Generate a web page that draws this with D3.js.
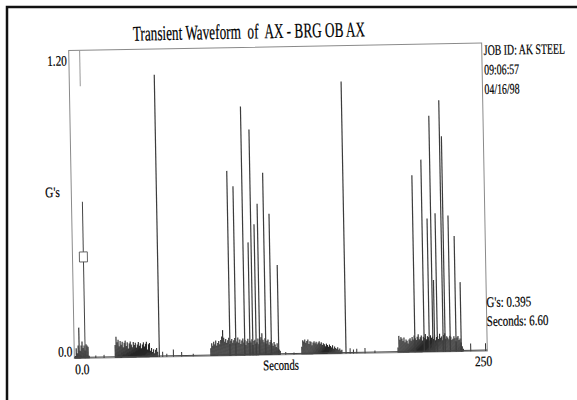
<!DOCTYPE html>
<html>
<head>
<meta charset="utf-8">
<script src="https://cdn.jsdelivr.net/npm/d3@7"></script>
<style>
  body { margin: 0; background: #fff; }
  text { font-family: "Liberation Serif", "DejaVu Serif", serif; fill: #000; stroke: #000; stroke-width: 0.2px; }
</style>
</head>
<body>
<div id="chart"></div>
<script>
// Data________________________________________________________________
const title = 'Transient Waveform  of  AX - BRG OB AX';
const infoLines = ['JOB ID: AK STEEL', '09:06:57', '04/16/98'];
const cursorLines = ["G's: 0.395", 'Seconds: 6.60'];
const xTicks = [0, 250];
const xTickLabels = ['0.0', '250'];
const yTicks = [0, 1.2];
const yTickLabels = ['0.0', '1.20'];

// cursor (seconds, G's)
const cursorTime = 6.6;
const cursorValue = 0.395;
const cursorSegments = [[0, 0.61], [1.06, 1.2]];

// large impacts: [seconds, G's]
const spikes = [
    [51.5, 1.10], [94.3, 0.72], [97.9, 0.66], [103.3, 0.97], [106.4, 0.44],
    [108.2, 0.88], [110.2, 0.51], [112.3, 0.59], [116.0, 0.71], [119.4, 0.55],
    [123.8, 0.35], [164.5, 1.06], [206.3, 0.69], [211.9, 0.75], [215.0, 0.52],
    [217.2, 0.92], [218.2, 0.28], [219.9, 0.54], [223.4, 0.98], [224.6, 0.84],
    [227.7, 0.53], [231.2, 0.45], [234.3, 0.27]
];

// small isolated blips: [seconds, G's]
const blips = [
    [13, 0.01], [18, 0.012], [53.5, 0.02], [56, 0.012], [60, 0.028], [65, 0.018],
    [72, 0.01], [128, 0.01], [133, 0.008], [167, 0.02], [169, 0.015], [171, 0.018],
    [176, 0.02], [182, 0.01], [240, 0.03], [249, 0.03]
];

// sampled bursts (start s, end s, amplitudes in G's)
const burst0 = { start: 0.6, end: 9.0, values: [0.01, 0.04, 0.02, 0.05, 0.12, 0.03, 0.05, 0.066, 0.04, 0.05, 0.03, 0.055, 0.05, 0.045, 0.01] };
const burst1 = { start: 24.8, end: 50.5, values: [0.05, 0.082, 0.06, 0.07, 0.045, 0.065, 0.05, 0.062, 0.04, 0.058, 0.066, 0.045, 0.06, 0.035, 0.055, 0.062, 0.05, 0.04, 0.06, 0.048, 0.057, 0.038, 0.05, 0.06, 0.045, 0.055, 0.035, 0.05, 0.058, 0.042, 0.052, 0.06, 0.03, 0.05, 0.055, 0.025, 0.035, 0.02, 0.03, 0.015, 0.028, 0.035, 0.02] };
const burst2 = { start: 82.7, end: 124.7, values: [0.03, 0.05, 0.04, 0.055, 0.045, 0.06, 0.04, 0.05, 0.058, 0.045, 0.062, 0.075, 0.1, 0.07, 0.055, 0.065, 0.05, 0.06, 0.07, 0.045, 0.058, 0.065, 0.05, 0.06, 0.068, 0.048, 0.055, 0.07, 0.05, 0.062, 0.045, 0.058, 0.066, 0.05, 0.06, 0.04, 0.055, 0.065, 0.048, 0.057, 0.05, 0.062, 0.04, 0.055, 0.06, 0.045, 0.05, 0.065, 0.042, 0.058, 0.07, 0.085, 0.06, 0.05, 0.065, 0.045, 0.055, 0.06, 0.04, 0.05, 0.058, 0.045, 0.035, 0.05, 0.04, 0.03, 0.045, 0.025, 0.02, 0.015] };
const burst3 = { start: 137.8, end: 162.0, values: [0.03, 0.055, 0.05, 0.058, 0.045, 0.052, 0.057, 0.04, 0.05, 0.048, 0.035, 0.045, 0.05, 0.042, 0.048, 0.038, 0.045, 0.05, 0.04, 0.046, 0.035, 0.042, 0.038, 0.03, 0.04, 0.035, 0.028, 0.036, 0.03, 0.025, 0.033, 0.02, 0.028, 0.022, 0.018, 0.025, 0.015, 0.02, 0.012, 0.015] };
const burst4 = { start: 196.0, end: 235.5, values: [0.02, 0.065, 0.05, 0.06, 0.055, 0.045, 0.058, 0.04, 0.05, 0.045, 0.035, 0.05, 0.055, 0.045, 0.06, 0.05, 0.065, 0.055, 0.048, 0.06, 0.07, 0.05, 0.058, 0.065, 0.045, 0.06, 0.055, 0.07, 0.05, 0.062, 0.058, 0.045, 0.065, 0.055, 0.06, 0.05, 0.068, 0.045, 0.058, 0.062, 0.05, 0.07, 0.055, 0.06, 0.045, 0.065, 0.072, 0.05, 0.06, 0.055, 0.048, 0.062, 0.058, 0.045, 0.05, 0.06, 0.052, 0.04, 0.055, 0.06, 0.045, 0.05, 0.035, 0.02, 0.01] };
const bursts = [burst0, burst1, burst2, burst3, burst4];

// Layout______________________________________________________________
const width = 577;
const height = 400;
const plot = { x: 71.5, y: 46.75, w: 413, h: 308 };
const tilt = -1.05; // the scan sits slightly crooked

// squeeze text horizontally (the original face is a narrow Times)
function squeeze(sel, k) {
    sel.each(function () {
        const w = this.getComputedTextLength();
        d3.select(this).attr('textLength', w * k).attr('lengthAdjust', 'spacingAndGlyphs');
    });
    return sel;
}

// narrow text drawn through a scale transform, so its box stays true
function narrowText(parent, x, y, str, k, size) {
    return parent.append('g')
        .attr('transform', `translate(${x},${y}) scale(${k},1)`)
        .append('text')
        .style('font-size', size)
        .text(str);
}

const svg = d3.select('#chart')
    .append('svg')
    .attr('width', width)
    .attr('height', height);

svg.append('rect').attr('width', width).attr('height', height).attr('fill', '#fff');

// outer page border
svg.append('rect')
    .attr('x', 7).attr('y', 7)
    .attr('width', 620).attr('height', 420)
    .attr('fill', 'none')
    .attr('stroke', '#111')
    .attr('stroke-width', 2.5);

const g = svg.append('g')
    .attr('transform', `rotate(${tilt},${plot.x + plot.w / 2},${plot.y + plot.h / 2})`);

const x = d3.scaleLinear().domain([0, 250]).range([plot.x, plot.x + plot.w]);
const y = d3.scaleLinear().domain([0, 1.2]).range([plot.y + plot.h, plot.y]);

// Title_______________________________________________________________
squeeze(g.append('text')
    .attr('x', 252).attr('y', 38)
    .attr('text-anchor', 'middle')
    .style('white-space', 'pre')
    .style('font-size', '21px')
    .text(title), 0.63);

// Plot frame__________________________________________________________
g.append('rect')
    .attr('x', plot.x).attr('y', plot.y)
    .attr('width', plot.w).attr('height', plot.h)
    .attr('fill', 'none')
    .attr('stroke', '#8a8a8a')
    .attr('stroke-width', 1);

// Bursts (dense noise)________________________________________________
const noise = g.append('g').attr('class', 'noise');
bursts.forEach(b => {
    const t = d3.scaleLinear().domain([0, b.values.length - 1]).range([b.start, b.end]);
    noise.selectAll(null)
        .data(b.values)
        .enter()
        .append('line')
        .attr('x1', (d, i) => x(t(i)))
        .attr('x2', (d, i) => x(t(i)))
        .attr('y1', y(0))
        .attr('y2', d => y(d))
        .attr('stroke', '#262626')
        .attr('stroke-width', 1.1);
});

g.append('g')
    .selectAll('line')
    .data(blips)
    .enter()
    .append('line')
    .attr('x1', d => x(d[0])).attr('x2', d => x(d[0]))
    .attr('y1', y(0)).attr('y2', d => y(d[1]))
    .attr('stroke', '#333')
    .attr('stroke-width', 1);

// Spikes______________________________________________________________
g.append('g')
    .selectAll('line')
    .data(spikes)
    .enter()
    .append('line')
    .attr('x1', d => x(d[0])).attr('x2', d => x(d[0]))
    .attr('y1', y(0)).attr('y2', d => y(d[1]))
    .attr('stroke', '#3c3c3c')
    .attr('stroke-width', 1.2);

// baseline
g.append('line')
    .attr('x1', x(0)).attr('x2', x(250))
    .attr('y1', y(0.004)).attr('y2', y(0.004))
    .attr('stroke', '#444')
    .attr('stroke-width', 1);

// Cursor______________________________________________________________
g.append('g')
    .selectAll('line')
    .data(cursorSegments)
    .enter()
    .append('line')
    .attr('x1', x(cursorTime)).attr('x2', x(cursorTime))
    .attr('y1', d => y(d[0])).attr('y2', d => y(d[1]))
    .attr('stroke', (d, i) => i === 0 ? '#444' : '#999')
    .attr('stroke-width', 1);

g.append('rect')
    .attr('x', x(cursorTime) - 4).attr('y', y(cursorValue) - 5)
    .attr('width', 8).attr('height', 10)
    .attr('fill', '#fff')
    .attr('stroke', '#555')
    .attr('stroke-width', 0.9);

// Axes labels_________________________________________________________
const yAxis = d3.axisLeft(y)
    .tickValues(yTicks)
    .tickSize(0)
    .tickPadding(2)
    .tickFormat((d, i) => yTickLabels[i]);
const yAxisG = g.append('g')
    .attr('transform', `translate(${plot.x},0)`)
    .call(yAxis);
yAxisG.select('.domain').remove();
yAxisG.selectAll('text')
    .attr('dy', d => d === 0 ? '-0.18em' : '1.0em')
    .style('font-size', '14.5px')
    .style('font-family', '"Liberation Serif", serif')
    .attr('fill', '#000');
squeeze(yAxisG.selectAll('text'), 0.78);

const xAxis = d3.axisBottom(x)
    .tickValues(xTicks)
    .tickSize(0)
    .tickPadding(5)
    .tickFormat((d, i) => xTickLabels[i]);
const xAxisG = g.append('g')
    .attr('transform', `translate(0,${plot.y + plot.h})`)
    .call(xAxis);
xAxisG.select('.domain').remove();
xAxisG.selectAll('text')
    .attr('dx', d => d === 0 ? '0.5em' : '-0.3em')
    .attr('dy', d => d === 0 ? '0.75em' : '0.7em')
    .style('font-size', '14.5px')
    .style('font-family', '"Liberation Serif", serif')
    .attr('fill', '#000');
squeeze(xAxisG.selectAll('text'), 0.8);

squeeze(g.append('text')
    .attr('x', 60).attr('y', 193)
    .attr('text-anchor', 'end')
    .style('font-size', '14.5px')
    .text("G's"), 0.78);

squeeze(g.append('text')
    .attr('x', 278).attr('y', 370)
    .attr('text-anchor', 'middle')
    .style('font-size', '14.5px')
    .text('Seconds'), 0.74);

// Side info___________________________________________________________
const info = g.append('g').attr('class', 'info');
infoLines.forEach((d, i) => {
    narrowText(info, plot.x + plot.w + 2, 58.8 + i * 19.5, d, 0.68, '14.5px');
});
cursorLines.forEach((d, i) => {
    narrowText(info, plot.x + plot.w, 310.8 + i * 19, d, 0.76, '14.5px');
});
</script>
</body>
</html>
